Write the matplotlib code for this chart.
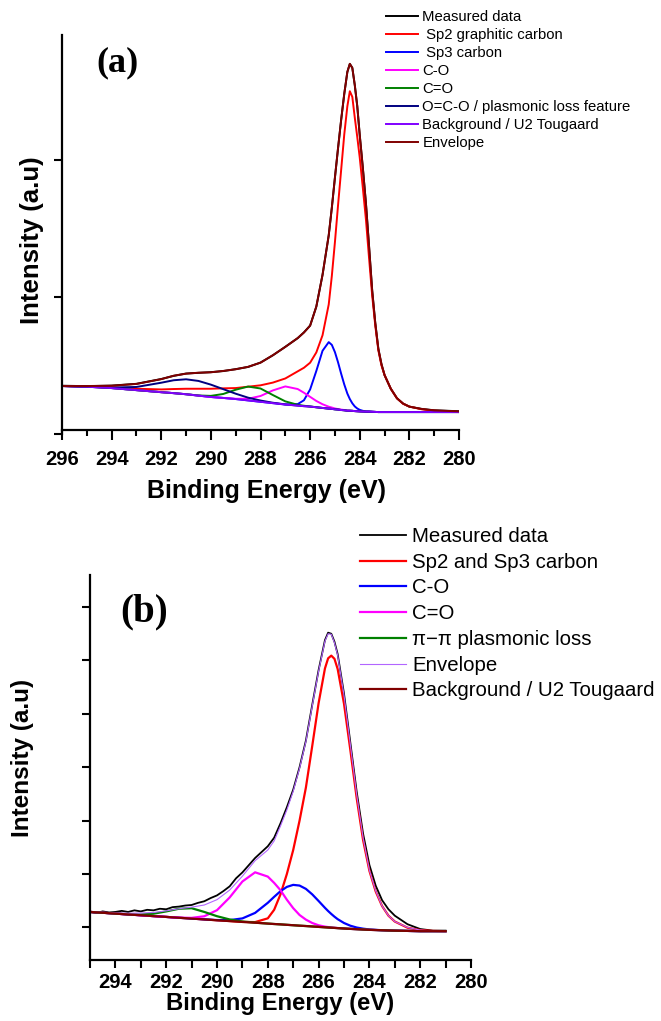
import numpy as np
import matplotlib
matplotlib.use('Agg')
import matplotlib.pyplot as plt
from matplotlib.ticker import MultipleLocator

plt.rcParams['font.family'] = ['Liberation Sans', 'DejaVu Sans']

W, H = 661, 1021

# ---- panel (a): C1s fit ----
energy_a = [296, 295, 294, 293, 292, 291.5, 291, 290.5, 290, 289.5,
            289, 288.5, 288, 287.5, 287, 286.5, 286.25, 286, 285.75, 285.5,
            285.25, 285.125, 285, 284.875, 284.75, 284.625, 284.5, 284.4, 284.3, 284.2,
            284.1, 284, 283.875, 283.75, 283.625, 283.5, 283.375, 283.25, 283.125, 283,
            282.75, 282.5, 282.25, 282, 281.5, 281, 280]
measured_a = [.352, .349, .353, .366, .401, .424, .441, .446, .451, .459,
              .473, .489, .521, .574, .636, .699, .741, .791, .929, 1.161,
              1.449, 1.651, 1.871, 2.084, 2.291, 2.479, 2.641, 2.699, 2.671, 2.544,
              2.391, 2.179, 1.941, 1.681, 1.369, 1.049, .811, .621, .509, .429,
              .331, .261, .221, .199, .183, .173, .166]
sp2_a = [.350, .345, .340, .330, .325, .328, .330, .330, .330, .333,
         .335, .345, .355, .375, .405, .457, .483, .520, .595, .720,
         .945, 1.153, 1.400, 1.668, 1.925, 2.183, 2.390, 2.500, 2.459, 2.307,
         2.166, 2.015, 1.794, 1.563, 1.283, 1.012, .791, .610, .500, .430,
         .330, .260, .220, .200, .180, .170, .160]
sp3_a = [.350, .345, .335, .320, .305, .298, .290, .280, .270, .263,
         .255, .245, .235, .225, .215, .218, .246, .325, .460, .607,
         .670, .650, .597, .523, .440, .362, .295, .255, .224, .201,
         .186, .176, .169, .165, .164, .162, .161, .160, .160, .160,
         .160, .160, .160, .160, .160, .160, .160]
co_a = [.350, .345, .335, .320, .305, .298, .290, .280, .270, .263,
        .257, .257, .277, .318, .347, .328, .301, .271, .241, .217,
        .199, .193, .186, .182, .178, .175, .171, .170, .169, .167,
        .166, .165, .164, .163, .163, .162, .161, .160, .160, .160,
        .160, .160, .160, .160, .160, .160, .160]
c_o_double_a = [.350, .345, .335, .320, .305, .298, .290, .281, .278, .292,
                .323, .346, .332, .284, .238, .213, .206, .201, .195, .190,
                .185, .183, .180, .178, .175, .173, .170, .170, .169, .167,
                .166, .165, .164, .163, .163, .162, .161, .160, .160, .160,
                .160, .160, .160, .160, .160, .160, .160]
oco_a = [.350, .345, .339, .343, .374, .392, .399, .387, .360, .327,
         .294, .265, .244, .228, .216, .207, .203, .200, .195, .190,
         .185, .183, .180, .178, .175, .173, .170, .170, .169, .167,
         .166, .165, .164, .163, .163, .162, .161, .160, .160, .160,
         .160, .160, .160, .160, .160, .160, .160]
background_a = [.350, .345, .335, .320, .305, .298, .290, .280, .270, .263,
                .255, .245, .235, .225, .215, .207, .203, .200, .195, .190,
                .185, .183, .180, .178, .175, .173, .170, .170, .169, .167,
                .166, .165, .164, .163, .163, .162, .161, .160, .160, .160,
                .160, .160, .160, .160, .160, .160, .160]
envelope_a = [.350, .350, .352, .365, .400, .425, .440, .447, .450, .460,
              .472, .490, .520, .575, .635, .700, .740, .790, .930, 1.160,
              1.450, 1.650, 1.870, 2.085, 2.290, 2.480, 2.640, 2.700, 2.670, 2.545,
              2.390, 2.180, 1.940, 1.680, 1.370, 1.050, .810, .620, .510, .430,
              .330, .260, .222, .200, .182, .172, .165]

labels_a = ['Measured data', ' Sp2 graphitic carbon', ' Sp3 carbon', 'C-O', 'C=O',
            'O=C-O / plasmonic loss feature', 'Background / U2 Tougaard', 'Envelope']
colors_a = ['black', '#ff0000', '#0000ff', '#ff00ff', '#008000', '#000080',
            '#8000ff', '#800000']

# ---- panel (b) ----
energy_b = [295, 294.5, 294, 293.5, 293, 292.5, 292, 291.5, 291, 290.5,
            290, 289.5, 289, 288.5, 288, 287.75, 287.5, 287.25, 287, 286.75,
            286.5, 286.25, 286, 285.75, 285.625, 285.5, 285.375, 285.25, 285, 284.75,
            284.5, 284.25, 284, 283.75, 283.5, 283.25, 283, 282.5, 282, 281.5, 281]
# measured spectrum has its own (denser, noisy) sampling on the high-BE side
energy_meas_b = [295, 294.75, 294.5, 294.25, 294, 293.75, 293.5, 293.25, 293, 292.75,
                 292.5, 292.25, 292, 291.75, 291.5, 291.25, 291, 290.75, 290.5, 290.25,
                 290, 289.75, 289.5, 289.25, 289, 288.5, 288, 287.75, 287.5, 287.25,
                 287, 286.75, 286.5, 286.25, 286, 285.75, 285.625, 285.5, 285.375, 285.25,
                 285, 284.75, 284.5, 284.25, 284, 283.75, 283.5, 283.25, 283, 282.5,
                 282, 281.5, 281]
measured_b = [1.29, 1.27, 1.30, 1.28, 1.29, 1.31, 1.29, 1.32, 1.30, 1.33,
              1.32, 1.35, 1.34, 1.38, 1.39, 1.41, 1.42, 1.46, 1.49, 1.55,
              1.60, 1.68, 1.77, 1.92, 2.03, 2.30, 2.52, 2.68, 2.95, 3.25,
              3.58, 4.00, 4.50, 5.17, 5.82, 6.38, 6.52, 6.50, 6.35, 6.12,
              5.38, 4.46, 3.54, 2.76, 2.17, 1.78, 1.51, 1.34, 1.22, 1.06,
              0.97, 0.94, 0.94]
sp_b = [1.290, 1.275, 1.259, 1.243, 1.228, 1.212, 1.197, 1.181, 1.166, 1.150,
        1.134, 1.119, 1.103, 1.100, 1.170, 1.330, 1.620, 2.000, 2.450, 3.000,
        3.620, 4.400, 5.200, 5.850, 6.040, 6.090, 6.030, 5.840, 5.190, 4.320,
        3.420, 2.640, 2.060, 1.670, 1.400, 1.220, 1.110, 0.995, 0.950, 0.935, 0.930]
co_b = [1.290, 1.275, 1.259, 1.243, 1.228, 1.212, 1.197, 1.181, 1.166, 1.151,
        1.138, 1.137, 1.169, 1.272, 1.461, 1.573, 1.679, 1.759, 1.797, 1.784,
        1.722, 1.619, 1.495, 1.367, 1.307, 1.252, 1.201, 1.155, 1.083, 1.032,
        0.998, 0.977, 0.962, 0.954, 0.948, 0.943, 0.940, 0.935, 0.930, 0.930, 0.930]
c_o_double_b = [1.290, 1.275, 1.259, 1.243, 1.228, 1.212, 1.197, 1.183, 1.179, 1.209,
                1.323, 1.562, 1.860, 2.032, 1.952, 1.834, 1.697, 1.519, 1.361, 1.233,
                1.146, 1.083, 1.040, 1.015, 1.007, 1.000, 0.994, 0.989, 0.980, 0.973,
                0.967, 0.961, 0.955, 0.951, 0.947, 0.943, 0.940, 0.935, 0.930, 0.930, 0.930]
pipi_b = [1.290, 1.275, 1.260, 1.246, 1.242, 1.257, 1.300, 1.350, 1.360, 1.290,
          1.210, 1.149, 1.111, 1.090, 1.072, 1.064, 1.057, 1.049, 1.041, 1.033,
          1.026, 1.018, 1.010, 1.002, 0.998, 0.995, 0.991, 0.987, 0.980, 0.973,
          0.967, 0.961, 0.955, 0.951, 0.947, 0.943, 0.940, 0.935, 0.930, 0.930, 0.930]
envelope_b = [1.290, 1.280, 1.270, 1.265, 1.270, 1.280, 1.310, 1.350, 1.380, 1.420,
              1.520, 1.700, 1.960, 2.250, 2.450, 2.620, 2.900, 3.200, 3.550, 3.980,
              4.480, 5.150, 5.800, 6.360, 6.500, 6.490, 6.330, 6.100, 5.350, 4.420,
              3.480, 2.680, 2.070, 1.680, 1.400, 1.220, 1.110, 1.000, 0.950, 0.935, 0.930]
background_b = [1.290, 1.275, 1.259, 1.243, 1.228, 1.212, 1.197, 1.181, 1.166, 1.150,
                1.134, 1.119, 1.103, 1.088, 1.072, 1.064, 1.057, 1.049, 1.041, 1.033,
                1.026, 1.018, 1.010, 1.002, 0.998, 0.995, 0.991, 0.987, 0.980, 0.973,
                0.967, 0.961, 0.955, 0.951, 0.947, 0.943, 0.940, 0.935, 0.930, 0.930, 0.930]

labels_b = ['Measured data', 'Sp2 and Sp3 carbon', 'C-O', 'C=O',
            'π−π plasmonic loss', 'Envelope', 'Background / U2 Tougaard']
colors_b = ['black', '#ff0000', '#0000ff', '#ff00ff', '#008000', '#b266ff', '#800000']


def px_axes(fig, left, top, right, bottom):
    """axes from pixel box"""
    return fig.add_axes([left / W, 1 - bottom / H, (right - left) / W, (bottom - top) / H])


def style_axes(ax, major_len, minor_len, pad):
    for s in ['top', 'right']:
        ax.spines[s].set_visible(False)
    for s in ['left', 'bottom']:
        ax.spines[s].set_linewidth(1.6)
    ax.tick_params(axis='x', which='major', direction='out', length=major_len, width=1.5,
                   labelsize=14.5, pad=pad)
    ax.tick_params(axis='x', which='minor', direction='out', length=minor_len, width=1.5)
    ax.tick_params(axis='y', which='major', direction='out', length=6, width=1.5,
                   labelleft=False)
    for lab in ax.get_xticklabels():
        lab.set_fontweight('bold')


fig = plt.figure(figsize=(W / 100, H / 100), dpi=100)

# (a)
ax = px_axes(fig, 62, 35, 459, 434)
series_a = [measured_a, sp2_a, sp3_a, co_a, c_o_double_a, oco_a, background_a, envelope_a]
for ys, c, lab in zip(series_a, colors_a, labels_a):
    ax.plot(energy_a, ys, color=c, lw=1.4, label=lab)
ax.set_xlim(296, 280)
ax.set_ylim(0, 2.91)
ax.set_yticks([0, 1, 2])
ax.xaxis.set_major_locator(MultipleLocator(2))
ax.xaxis.set_minor_locator(MultipleLocator(1))
ax.spines['bottom'].set_position(('data', 0.03))
style_axes(ax, 7.2, 4.5, 7.5)
ax.text(-0.076, 0.486, 'Intensity (a.u)', transform=ax.transAxes, rotation=90,
        ha='center', va='center', fontsize=18.5, fontweight='bold')
ax.text(0.514, -0.142, 'Binding Energy (eV)', transform=ax.transAxes,
        ha='center', va='center', fontsize=18, fontweight='bold')
ax.legend(loc='upper left', bbox_to_anchor=(386 / W, 1 - 10 / H),
          bbox_transform=fig.transFigure, frameon=False, fontsize=10.7,
          borderpad=0, borderaxespad=0, handlelength=2.15, handletextpad=0.3,
          labelspacing=0.27)
fig.text(117 / W, 1 - 63 / H, '(a)', fontfamily='Liberation Serif', fontweight='bold',
         fontsize=26, ha='center', va='center')

# (b)
ax = px_axes(fig, 90, 575, 471, 960)
ax.plot(energy_meas_b, measured_b, color=colors_b[0], lw=1.3, label=labels_b[0])
series_b = [sp_b, co_b, c_o_double_b, pipi_b, envelope_b, background_b]
widths_b = [1.6, 1.6, 1.6, 1.6, 0.8, 1.6]
for ys, c, lab, lw in zip(series_b, colors_b[1:], labels_b[1:], widths_b):
    ax.plot(energy_b, ys, color=c, lw=lw, label=lab)
ax.set_xlim(295, 280)
ax.set_ylim(0.39, 7.6)
ax.set_yticks([1, 2, 3, 4, 5, 6, 7])
ax.set_xticks([294, 292, 290, 288, 286, 284, 282, 280])
ax.xaxis.set_minor_locator(MultipleLocator(1))
style_axes(ax, 6, 5.5, 3)
ax.text(-0.176, 0.525, 'Intensity (a.u)', transform=ax.transAxes, rotation=90,
        ha='center', va='center', fontsize=17.5, fontweight='bold')
ax.text(0.499, -0.112, 'Binding Energy (eV)', transform=ax.transAxes,
        ha='center', va='center', fontsize=17.2, fontweight='bold')
ax.legend(loc='upper left', bbox_to_anchor=(360 / W, 1 - 527 / H),
          bbox_transform=fig.transFigure, frameon=False, fontsize=14.7,
          borderpad=0, borderaxespad=0, handlelength=2.25, handletextpad=0.3,
          labelspacing=0.33)
fig.text(144 / W, 1 - 612 / H, '(b)', fontfamily='Liberation Serif', fontweight='bold',
         fontsize=28, ha='center', va='center')

plt.savefig('out.png', dpi=100)
plt.close()
